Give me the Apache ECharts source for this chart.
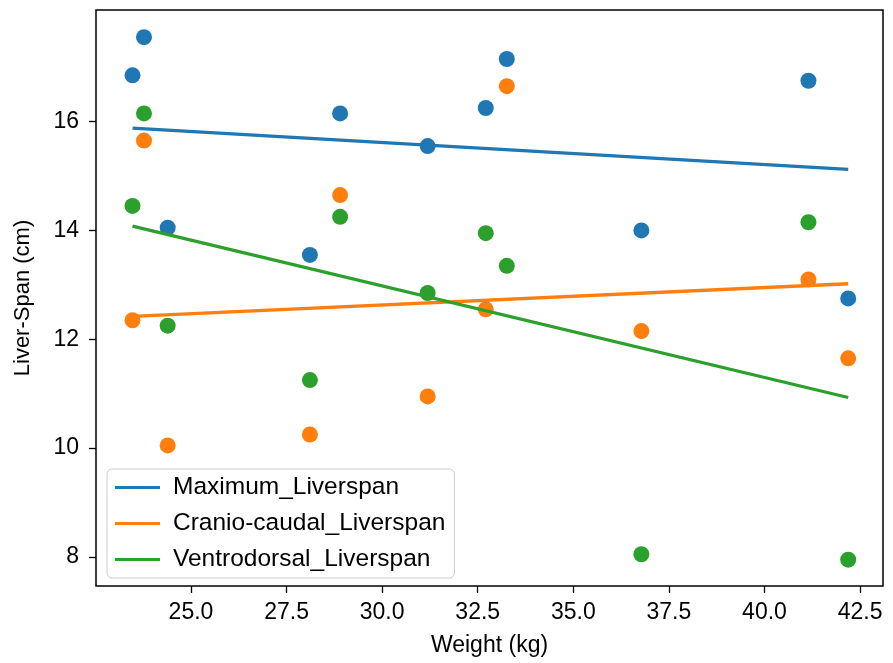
<!DOCTYPE html>
<html>
<head>
<meta charset="utf-8">
<script src="https://cdn.jsdelivr.net/npm/echarts@6/dist/echarts.min.js"></script>
<style>html,body{margin:0;padding:0;background:#fff}#c{width:893px;height:663px}</style>
</head>
<body>
<div id="c"></div>
<script>
const weights = [23.47, 23.77, 24.39, 28.11, 28.90, 31.19, 32.71, 33.26, 36.78, 41.15, 42.19];
const maximumLiverspan = [16.85, 17.55, 14.05, 13.55, 16.15, 15.55, 16.25, 17.15, 14.0, 16.75, 12.75];
const cranioCaudalLiverspan = [12.35, 15.65, 10.05, 10.25, 14.65, 10.95, 12.55, 16.65, 12.15, 13.1, 11.65];
const ventrodorsalLiverspan = [14.45, 16.15, 12.25, 11.25, 14.25, 12.85, 13.95, 13.35, 8.05, 14.15, 7.95];
// fitted trend lines: [start, end]
const fitX = [23.47, 42.19];
const fitMaximum = [15.88, 15.12];
const fitCranio = [12.42, 13.02];
const fitVentro = [14.08, 10.93];
const seriesNames = ['Maximum_Liverspan', 'Cranio-caudal_Liverspan', 'Ventrodorsal_Liverspan'];
const colors = ['#1f77b4', '#ff7f0e', '#2ca02c'];
const xTicks = [25.0, 27.5, 30.0, 32.5, 35.0, 37.5, 40.0, 42.5];
const yTicks = [8, 10, 12, 14, 16];

const pts = [maximumLiverspan, cranioCaudalLiverspan, ventrodorsalLiverspan];
const fits = [fitMaximum, fitCranio, fitVentro];
const font = 'Liberation Sans, Arial, sans-serif';

const series = [];
pts.forEach((arr, i) => {
  series.push({
    name: seriesNames[i] + ' points',
    type: 'scatter',
    data: weights.map((w, k) => [w, arr[k]]),
    symbolSize: 16,
    itemStyle: {color: colors[i], opacity: 1},
    z: 2
  });
});
fits.forEach((arr, i) => {
  series.push({
    name: seriesNames[i],
    type: 'line',
    data: fitX.map((w, k) => [w, arr[k]]),
    showSymbol: false,
    symbol: 'none',
    lineStyle: {color: colors[i], width: 3.3},
    itemStyle: {color: colors[i]},
    z: 3
  });
});

const chart = echarts.init(document.getElementById('c'), null, {renderer: 'canvas'});
chart.setOption({
  animation: false,
  backgroundColor: '#fff',
  grid: {left: 96, right: 10, top: 10, bottom: 77, show: true, borderColor: '#000', borderWidth: 1.5, containLabel: false, outerBoundsMode: 'none'},
  xAxis: {
    type: 'value', min: 22.515, max: 43.1,
    name: 'Weight (kg)', nameLocation: 'middle', nameGap: 48,
    nameTextStyle: {fontSize: 23, color: '#000', fontFamily: font},
    axisLine: {show: false},
    axisTick: {show: true, length: 7, lineStyle: {color: '#000', width: 1.3}, customValues: xTicks},
    axisLabel: {fontSize: 23, color: '#000', fontFamily: font, margin: 15, customValues: xTicks, formatter: v => v.toFixed(1)},
    splitLine: {show: false}
  },
  yAxis: {
    type: 'value', min: 7.467, max: 18.05,
    name: 'Liver-Span (cm)', nameLocation: 'middle', nameGap: 62, nameRotate: 90,
    nameTextStyle: {fontSize: 22, color: '#000', fontFamily: font},
    axisLine: {show: false},
    axisTick: {show: true, length: 7, lineStyle: {color: '#000', width: 1.3}, customValues: yTicks},
    axisLabel: {fontSize: 23, color: '#000', fontFamily: font, margin: 17, customValues: yTicks},
    splitLine: {show: false}
  },
  legend: {
    data: seriesNames,
    orient: 'vertical', left: 107, top: 469,
    icon: 'path://M0,0 L40,0 L40,2.5 L0,2.5 Z',
    itemWidth: 45, itemHeight: 3, itemGap: 11,
    textStyle: {fontSize: 24.5, color: '#000', fontFamily: font, padding: [0, 0, 0, 8]},
    borderColor: '#cccccc', borderWidth: 1, borderRadius: 5,
    backgroundColor: 'rgba(255,255,255,0.8)',
    padding: [6, 9, 6, 8]
  },
  series: series
});
</script>
</body>
</html>
